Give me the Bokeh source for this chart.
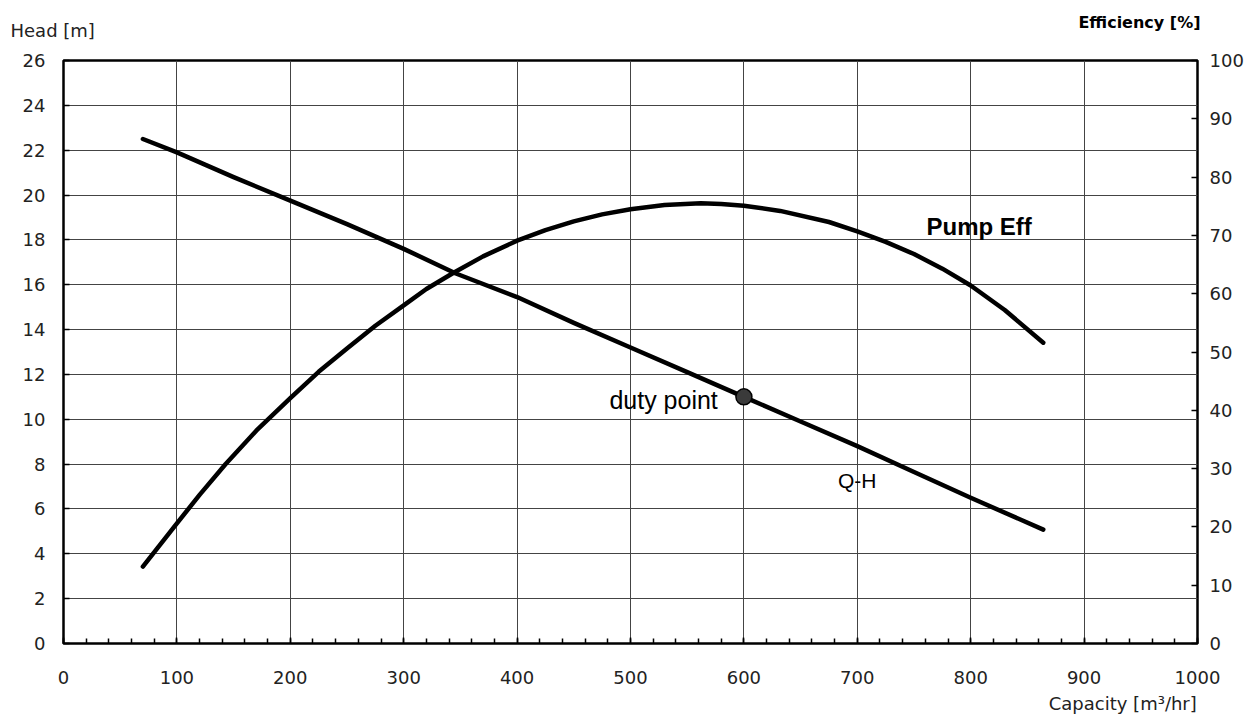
from bokeh.plotting import figure
from bokeh.models import Range1d, LinearAxis, Label, FixedTicker, Title
from bokeh.layouts import column
from bokeh.embed import file_html
from bokeh.resources import INLINE

# ---- data ----
q_qh = [70, 100, 150, 200, 250, 300, 346, 400, 450, 500, 550, 600, 650, 700, 750, 800, 864]
head = [22.5, 21.9, 20.8, 19.75, 18.7, 17.6, 16.5, 15.45, 14.3, 13.2, 12.1, 11.0, 9.9, 8.8, 7.65, 6.5, 5.08]

q_eff = [70, 100, 120, 143, 170, 200, 225, 250, 275, 300, 320, 344, 370, 400, 425, 450, 475,
         500, 530, 562, 580, 600, 632, 675, 700, 725, 750, 775, 800, 830, 864]
eff = [13.2, 20.6, 25.5, 30.8, 36.5, 42.1, 46.6, 50.6, 54.5, 58.0, 60.8, 63.6, 66.4, 69.1, 70.9, 72.4, 73.6,
       74.5, 75.2, 75.5, 75.4, 75.1, 74.2, 72.3, 70.7, 68.9, 66.8, 64.3, 61.4, 57.2, 51.6]

duty_q = [600]
duty_h = [11.0]

x_ticks = [0, 100, 200, 300, 400, 500, 600, 700, 800, 900, 1000]
x_minor = [v for v in range(0, 1001, 20)]
head_ticks = list(range(0, 27, 2))
eff_ticks = list(range(0, 101, 10))

FONT = "DejaVu Sans"
ARIAL = "Liberation Sans"
W = 1250
TOP_H = 48

# ---- strip above the chart holding the two axis titles ----
top = figure(width=W, height=TOP_H, output_backend="svg", toolbar_location=None,
             x_axis_type=None, y_axis_type=None,
             x_range=Range1d(0, W), y_range=Range1d(0, TOP_H))
top.min_border = 0
top.min_border_left = 0
top.min_border_right = 0
top.min_border_top = 0
top.min_border_bottom = 0
top.grid.visible = False
top.outline_line_color = None
top.add_layout(Label(x=10, y=TOP_H - 30, text="Head  [m]", text_align="left", text_baseline="middle",
                     text_font=FONT, text_font_size="18px", text_color="#222222"))
top.add_layout(Label(x=1200, y=TOP_H - 22, text="Efficiency [%]", text_align="right", text_baseline="middle",
                     text_font=FONT, text_font_size="16px", text_font_style="bold", text_color="black"))

# ---- main chart ----
p = figure(width=W, height=720 - TOP_H, output_backend="svg", toolbar_location=None,
           x_range=Range1d(0, 1000), y_range=Range1d(0, 26))
p.min_border_left = 63
p.min_border_right = 53
p.min_border_top = 60 - TOP_H
p.min_border_bottom = 77
p.extra_y_ranges = {"eff": Range1d(0, 100)}

for fig in (top, p):
    try:
        fig.frame_align = False
    except Exception:
        pass

p.outline_line_color = "black"
p.outline_line_width = 2.5
p.background_fill_color = "white"
p.border_fill_color = "white"

p.xgrid.ticker = FixedTicker(ticks=x_ticks)
p.ygrid.ticker = FixedTicker(ticks=head_ticks)
p.xgrid.grid_line_color = "#444444"
p.ygrid.grid_line_color = "#444444"
p.xgrid.grid_line_width = 1
p.ygrid.grid_line_width = 1

xa = p.xaxis[0]
xa.ticker = FixedTicker(ticks=x_ticks, minor_ticks=x_minor)
xa.axis_line_color = None
xa.major_tick_in = 6
xa.major_tick_out = 0
xa.minor_tick_in = 5
xa.minor_tick_out = 0
xa.major_tick_line_color = "black"
xa.minor_tick_line_color = "black"
xa.major_tick_line_width = 1.5
xa.minor_tick_line_width = 1.5
xa.major_label_standoff = 27
xa.major_label_text_font = FONT
xa.major_label_text_font_size = "18px"
xa.major_label_text_color = "#222222"

ya = p.yaxis[0]
ya.ticker = FixedTicker(ticks=head_ticks)
ya.axis_line_color = None
ya.major_tick_in = 6
ya.major_tick_out = 0
ya.minor_tick_line_color = None
ya.major_tick_line_color = "black"
ya.major_tick_line_width = 1.5
ya.major_label_standoff = 18
ya.major_label_text_font = FONT
ya.major_label_text_font_size = "18px"
ya.major_label_text_color = "#222222"

ra = LinearAxis(y_range_name="eff", ticker=FixedTicker(ticks=eff_ticks))
ra.axis_line_color = None
ra.major_tick_in = 6
ra.major_tick_out = 0
ra.minor_tick_line_color = None
ra.major_tick_line_color = "black"
ra.major_tick_line_width = 1.5
ra.major_label_standoff = 12
ra.major_label_text_font = FONT
ra.major_label_text_font_size = "18px"
ra.major_label_text_color = "#222222"
p.add_layout(ra, "right")

p.line(q_qh, head, line_color="black", line_width=4.5, line_cap="round", line_join="round")
p.line(q_eff, eff, y_range_name="eff", line_color="black", line_width=4.5,
       line_cap="round", line_join="round")
p.scatter(duty_q, duty_h, size=16, fill_color="#3a3a3a", line_color="black", line_width=1.5)

p.add_layout(Label(x=577, y=10.85, text="duty point", text_align="right", text_baseline="middle",
                   text_font=ARIAL, text_font_size="25px", text_color="black"))
p.add_layout(Label(x=761, y=18.6, text="Pump Eff", text_align="left", text_baseline="middle",
                   text_font=ARIAL, text_font_size="24px", text_font_style="bold", text_color="black"))
p.add_layout(Label(x=683, y=7.25, text="Q-H", text_align="left", text_baseline="middle",
                   text_font=ARIAL, text_font_size="21px", text_color="black"))

t_cap = Title(text="Capacity  [m³/hr]", align="right", offset=-5, standoff=8,
              text_font=FONT, text_font_size="18px", text_font_style="normal", text_color="#222222")
p.add_layout(t_cap, "below")

layout = column(top, p, spacing=0)
open("out.html", "w").write(file_html(layout, INLINE))
